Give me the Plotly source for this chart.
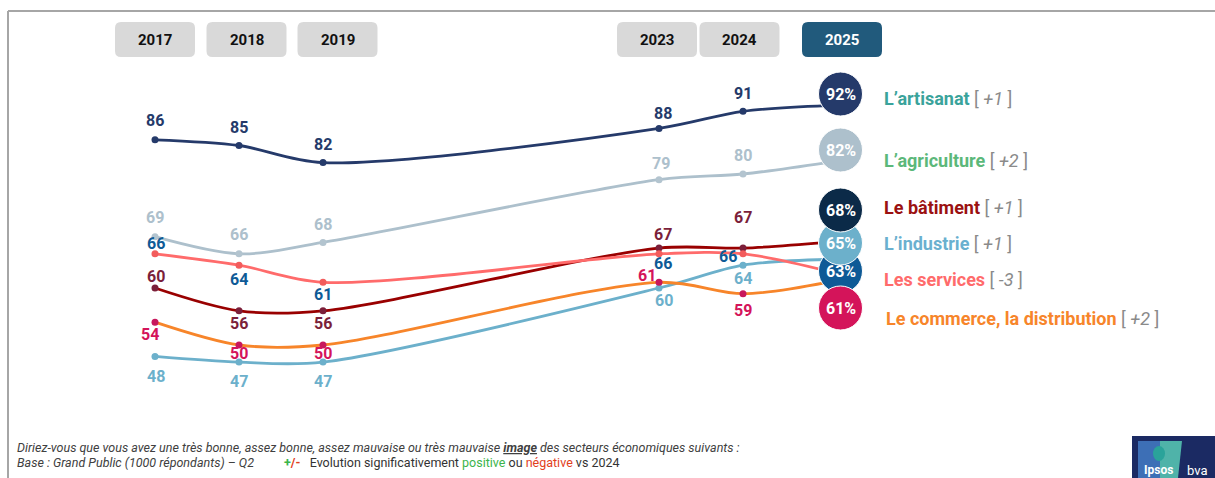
import plotly.graph_objects as go

W, H = 1215, 478

# ---------------- data ----------------
years = [2017, 2018, 2019, 2023, 2024, 2025]
year_labels = ["2017", "2018", "2019", "2023", "2024", "2025"]
sectors = ["L’artisanat", "L’agriculture", "Le bâtiment", "L’industrie",
           "Les services", "Le commerce, la distribution"]
artisanat = [86, 85, 82, 88, 91, 92]
agriculture = [69, 66, 68, 79, 80, 82]
batiment = [60, 56, 56, 67, 67, 68]
industrie = [48, 47, 47, 60, 64, 65]
services = [66, 64, 61, 66, 66, 63]
commerce = [54, 50, 50, 61, 59, 61]
evolution = ["+1", "+2", "+1", "+1", "-3", "+2"]

series_values = [artisanat, agriculture, batiment, industrie, services, commerce]

# ---------------- styles / layout ----------------
FONT = "Roboto"
styles = [
    dict(line="#253a6a", marker="#253a6a", label="#253a6a", bubble="#253a6a", legend="#3aa39b",
         off=[(0, -19), (0, -18), (0, -18), (4, -15), (0, -18)], by=94, ly=98),
    dict(line="#adc0cc", marker="#b3c4cf", label="#adc0cc", bubble="#adc0cc", legend="#5cb87a",
         off=[(0, -19), (0, -19), (0, -18), (2, -16), (0, -19)], by=150, ly=160),
    dict(line="#990000", marker="#7b1f3a", label="#7b1f3a", bubble="#0b2a48", legend="#9b1111",
         off=[(1, -12), (0, 13), (0, 13), (4, -14), (0, -31)], by=210, ly=207),
    dict(line="#6cb0cb", marker="#6cb0cb", label="#6cb0cb", bubble="#6cb0cb", legend="#6ab0cf",
         off=[(1, 20), (0, 19), (0, 19), (5, 12), (0, 13)], by=243, ly=243),
    dict(line="#ff6b6b", marker="#f25c5c", label="#0e5a96", bubble="#0e5a96", legend="#ff6b6b",
         off=[(1, -10), (0, 14), (0, 12), (4, 10), (-15, 3)], by=271, ly=279),
    dict(line="#f7852a", marker="#c8175c", label="#d4145a", bubble="#d4145a", legend="#f7852a",
         off=[(-5, 12), (0, 8), (0, 8), (-12, -7), (0, 17)], by=308, ly=318),
]

def px(x):
    return x / W

def py(y):
    return (H - y) / H

fig = go.Figure()

for vals, st in zip(series_values, styles):
    fig.add_trace(go.Scatter(
        x=years, y=vals, mode="lines",
        line=dict(color=st["line"], width=2.8, shape="spline", smoothing=0.9),
        hoverinfo="skip", showlegend=False))
for vals, st in zip(series_values, styles):
    fig.add_trace(go.Scatter(
        x=years[:-1], y=vals[:-1], mode="markers",
        marker=dict(color=st["marker"], size=7),
        hoverinfo="skip", showlegend=False))

annotations = []
shapes = []

def ann(xp, yp, text, size, color, xanchor="center"):
    annotations.append(dict(x=px(xp), y=py(yp), xref="paper", yref="paper", text=text,
                            showarrow=False, xanchor=xanchor, yanchor="middle",
                            font=dict(family=FONT, size=size, color=color)))

# data labels
for vals, st in zip(series_values, styles):
    for i in range(len(years) - 1):
        dx, dy = st["off"][i]
        annotations.append(dict(
            x=years[i], y=vals[i], xref="x", yref="y", text=f"<b>{vals[i]}</b>",
            showarrow=False, xshift=dx, yshift=-dy, xanchor="center", yanchor="middle",
            font=dict(family=FONT, size=16, color=st["label"])))

# year buttons
btn_centres = [155, 246.5, 337.5, 657, 739.5, 842]
btn_w, btn_top, btn_bot, r = 80, 22, 57, 6

def rrect(x0, y0, x1, y1, r):
    return (f"M {px(x0 + r)} {py(y0)} L {px(x1 - r)} {py(y0)} "
            f"Q {px(x1)} {py(y0)} {px(x1)} {py(y0 + r)} "
            f"L {px(x1)} {py(y1 - r)} Q {px(x1)} {py(y1)} {px(x1 - r)} {py(y1)} "
            f"L {px(x0 + r)} {py(y1)} Q {px(x0)} {py(y1)} {px(x0)} {py(y1 - r)} "
            f"L {px(x0)} {py(y0 + r)} Q {px(x0)} {py(y0)} {px(x0 + r)} {py(y0)} Z")

for i, (c, lab) in enumerate(zip(btn_centres, year_labels)):
    last = i == len(year_labels) - 1
    shapes.append(dict(type="path", xref="paper", yref="paper",
                       path=rrect(c - btn_w / 2, btn_top, c + btn_w / 2, btn_bot, r),
                       fillcolor="#215a7c" if last else "#d9d9d9",
                       line=dict(width=0), layer="below"))
    ann(c, (btn_top + btn_bot) / 2, f"<b>{lab}</b>", 15, "white" if last else "#111111")

# bubbles
bubble_order = [4, 3, 2, 5, 1, 0]
bx, br = 840.5, 22
for k in bubble_order:
    st = styles[k]
    shapes.append(dict(type="circle", xref="paper", yref="paper",
                       x0=px(bx - br), x1=px(bx + br), y0=py(st["by"] + br), y1=py(st["by"] - br),
                       fillcolor=st["bubble"], line=dict(color="white", width=1), layer="above"))
for k in bubble_order:
    ann(bx, styles[k]["by"], f"<b>{series_values[k][-1]}%</b>", 16, "white")

# legend labels
for k, st in enumerate(styles):
    lx = 884 if k == 5 else 882
    ann(lx, st["ly"],
        f"<b>{sectors[k]}</b><span style='color:#8a8a8a'> [ <i>{evolution[k]}</i> ]</span>",
        18, st["legend"], xanchor="left")

# borders
shapes.append(dict(type="line", xref="paper", yref="paper", x0=px(8), x1=1, y0=py(11), y1=py(11),
                   line=dict(color="#a6a6a6", width=2)))
shapes.append(dict(type="line", xref="paper", yref="paper", x0=px(8), x1=px(8), y0=py(11), y1=0,
                   line=dict(color="#a6a6a6", width=2)))

# footnotes
ann(15, 447, ("<i>Diriez-vous que vous avez une très bonne, assez bonne, assez mauvaise ou très mauvaise "
              "<b><u>image</u></b> des secteurs économiques suivants :</i>"), 12.5, "#404040", "left")
ann(15, 462, "<i>Base : Grand Public (1000 répondants) – Q2</i>", 12.5, "#404040", "left")
ann(282, 462, ("<b><span style='color:#3cb44b'>+</span><span style='color:#e2401c'>/-</span></b>"
               "   Evolution significativement <span style='color:#3cb44b'>positive</span> ou "
               "<span style='color:#e2401c'>négative</span> vs 2024"), 12.5, "#333333", "left")

# logo
shapes.append(dict(type="rect", xref="paper", yref="paper", x0=px(1132), x1=1, y0=0, y1=py(436),
                   fillcolor="#1b2a63", line=dict(width=0)))
shapes.append(dict(type="path", xref="paper", yref="paper",
                   path=f"M {px(1138)} {py(441)} L {px(1160)} {py(441)} L {px(1160)} {py(478)} L {px(1138)} {py(478)} Z",
                   fillcolor="#3d6fb6", line=dict(width=0)))
shapes.append(dict(type="path", xref="paper", yref="paper",
                   path=f"M {px(1160)} {py(441)} L {px(1182)} {py(441)} L {px(1178)} {py(478)} L {px(1160)} {py(478)} Z",
                   fillcolor="#4fb3a9", line=dict(width=0)))
shapes.append(dict(type="circle", xref="paper", yref="paper", x0=px(1153), x1=px(1165), y0=py(461), y1=py(446),
                   fillcolor="#2aa39a", line=dict(width=0)))
ann(1158, 470, "<b>Ipsos</b>", 12, "white")
ann(1197, 470, "bva", 13, "white")

x0_year = 2017 - 155 / 84
x1_year = 2017 + (W - 155) / 84
y_top = 630 / 5.7
y_bot = (630 - H) / 5.7

fig.update_layout(
    width=W, height=H, autosize=False,
    margin=dict(l=0, r=0, t=0, b=0, pad=0),
    paper_bgcolor="white", plot_bgcolor="white",
    xaxis=dict(range=[x0_year, x1_year], visible=False, fixedrange=True),
    yaxis=dict(range=[y_bot, y_top], visible=False, fixedrange=True),
    shapes=shapes, annotations=annotations, showlegend=False,
)

fig.write_html("out.html", config={"displayModeBar": False})
